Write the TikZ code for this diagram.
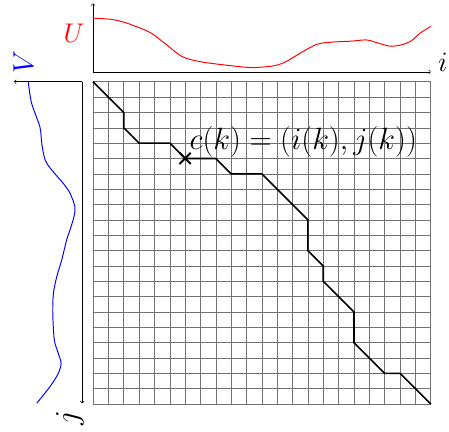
\RequirePackage{fix-cm}
\documentclass[tikz,border=0pt]{standalone}
\usetikzlibrary{shapes.misc}

\begin{document}
\begin{tikzpicture}[
		> = to, % arrow head style
		line width=0.9pt, % line style
		font=\fontsize{25}{28}\selectfont
		]
		
		\tikzstyle{axis line}=[->, black, line width=0.55pt]
		\tikzstyle{grid line}=[black!55, line width=0.45pt]
		\tikzstyle{warp path}=[black, line width=1.5pt]
		\tikzstyle{cross mark}=[cross out, draw, line width=1.8pt, minimum size=0.3cm, inner sep=0pt]
		\tikzstyle{big label}=[inner sep=0pt, font=\fontsize{28.5}{32}\selectfont]
		
		\useasboundingbox (-3.029,-11.377) rectangle (11.595,2.661);
		
		% the cost grid
		\draw[grid line, step=0.5] (0,-10.5) grid (11,0);
		
		% top signal
		\coordinate (o1) at (0,0.32);
		\coordinate (o1y) at (0,2.55);
		\coordinate (o1x) at (11,0.32);
		\draw[axis line] (o1) -- (o1y);
		\draw[axis line] (o1) -- (o1x);
		\node[red] (U) at (-0.62,1.59) {$U$};
		\node[anchor=base west, xshift=3pt, font=\fontsize{26}{30}\selectfont] (ilab) at (o1x) {$i$};
		\draw[red] plot[smooth] coordinates {(0,2.07) (0.6,2.03) (1.0,1.94) (1.45,1.78) (1.9,1.58) (2.4,1.2) (2.9,0.82) (3.5,0.65) (4.5,0.52) (5.2,0.46) (5.9,0.52) (6.3,0.66) (6.75,0.93) (7.3,1.22) (7.8,1.29) (8.4,1.32) (8.9,1.36) (9.25,1.27) (9.65,1.16) (10.0,1.19) (10.35,1.32) (10.65,1.58) (11.0,1.8)};
		
		% left signal
		\coordinate (o2) at (-0.35,0);
		\coordinate (o2x) at (-2.57,0);
		\coordinate (o2y) at (-0.35,-10.47);
		\draw[axis line] (o2) -- (o2x);
		\draw[axis line] (o2) -- (o2y);
		\node[blue, rotate=90, font=\fontsize{27}{30}\selectfont] (V) at (-2.27,0.63) {$V$};
		\node[rotate=90, font=\fontsize{30}{34}\selectfont] (jlab) at (-0.75,-10.95) {$j$};
		\draw[blue] plot[smooth] coordinates {(-2.11,0) (-2.0,-0.7) (-1.73,-1.47) (-1.67,-2.0) (-1.56,-2.55) (-1.35,-2.87) (-0.97,-3.31) (-0.75,-3.63) (-0.59,-4.07) (-0.62,-4.40) (-0.75,-4.83) (-0.86,-5.16) (-1.02,-5.81) (-1.18,-6.35) (-1.29,-6.90) (-1.31,-7.55) (-1.26,-8.41) (-1.13,-8.85) (-1.04,-9.17) (-1.13,-9.50) (-1.40,-9.93) (-1.83,-10.47)};
		
		% warping path, in cells
		\begin{scope}[x=0.5cm, y=-0.5cm]
			\draw[warp path] (0,0) -- (2,2) -- (2,3) -- (3,4) -- (5,4) -- (6,5) -- (8,5) -- (9,6) -- (11,6) -- (14,9) -- (14,11) -- (15,12) -- (15,13) -- (17,15) -- (17,17) -- (19,19) -- (20,19) -- (22,21);
			\node[cross mark] (ck) at (6,5) {};
		\end{scope}
		\node[big label, anchor=base west] (clab) at ([xshift=0.13cm, yshift=0.3cm]ck.center) {$c(k)=(i(k),j(k))$};
	\end{tikzpicture}
\end{document}
